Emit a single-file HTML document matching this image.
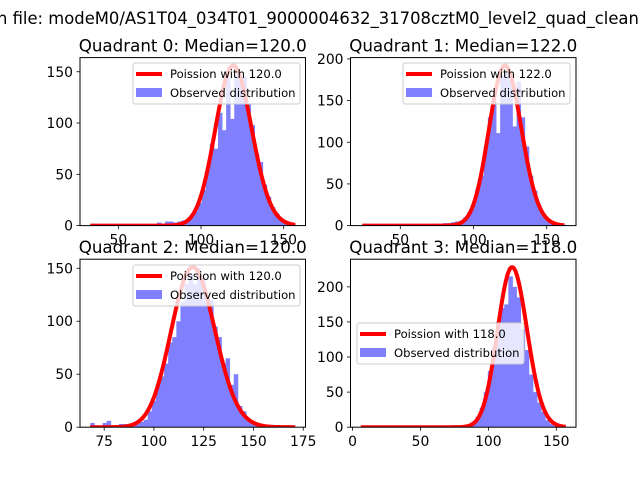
<!DOCTYPE html>
<html><head><meta charset="utf-8">
<style>
html,body{margin:0;padding:0;background:#fff;overflow:hidden;width:640px;height:480px}
svg{display:block;font-family:"DejaVu Sans","Liberation Sans",sans-serif}
</style></head>
<body>
<svg id="fig" width="640" height="480" viewBox="0 0 640 480">
<text x="-3" y="24" font-size="16.4" fill="#000">n file: modeM0/AS1T04_034T01_9000004632_31708cztM0_level2_quad_clean.evt</text>
</svg>
<script>
// ---- data ----
const quadrantNames = ["Quadrant 0: Median=120.0","Quadrant 1: Median=122.0","Quadrant 2: Median=120.0","Quadrant 3: Median=118.0"];
const poissonMeans = [120, 122, 120, 118];
const poissonPeaks = [156, 192, 151, 228];
const curveRanges = [[33,157],[24,162],[68,171],[6,157]];
const binRanges = [[34,157],[23,163],[68,171],[6,157]];
const q0Counts = [1,0,0,0,0,0,0,0,0,0,0,0,0,0,0,0,3,2,4,4, 3,4,5,6,10,14,22,35,55,80, 75,110,93,144,104,147,140,145,118,98, 70,62,40,28,18,12,7,3,2,1];
const q1Counts = [0,0,0,0,0,0,0,0,0,0,0,0,0,0,0,0,1,2,2,1, 3,3,4,5,6,10,16,25,45,60, 95,130,150,111,180,185,175,119,173,130, 95,60,42,25,12,6,3,2,1,1];
const q2Counts = [4,0,0,4,6,0,0,3,3,0, 2,3,5,7,15,25,40,48,60,80, 85,100,118,135,145,135,150,142,118,120, 95,85,60,65,40,50,20,15,8,5, 3,2,1,1,0,0,0,0,0,0];
const q3Counts = [0,0,0,0,0,0,0,0,0,0,0,0,0,0,0,0,0,0,0,0,0,0,0,0, 2,3,4,8,15,28, 50,80,115,150,170,175,215,200,185,140, 110,75,50,35,22,10,5,2,0,0];
const xTicks = [[50,100,150],[50,100,150],[75,100,125,150,175],[0,50,100,150]];
const yTicks = [[0,50,100,150],[0,50,100,150,200],[0,50,100,150],[0,50,100,150,200]];
const legendLabels = ["Poission with 120.0","Poission with 122.0","Poission with 120.0","Poission with 118.0"];
const allCounts = [q0Counts,q1Counts,q2Counts,q3Counts];

// ---- layout ----
const axesBoxes = [[80,57.6,225.5,168],[350.5,57.6,225.5,168],[80,259.2,225.5,168],[350.5,259.2,225.5,168]];
const legendBoxes = [[133,63],[403,63],[133,265],[357,323]];
const NS = "http://www.w3.org/2000/svg";
const fig = document.getElementById('fig');
function mk(tag, attrs, parent){const e=document.createElementNS(NS,tag);for(const k in attrs)e.setAttribute(k,attrs[k]);(parent||fig).appendChild(e);return e;}
function logPmf(k, lam){let lf=0;for(let i=2;i<=k;i++)lf+=Math.log(i);return k*Math.log(lam)-lam-lf;}

for(let q=0;q<4;q++){
  const [ax,ay,aw,ah]=axesBoxes[q];
  const counts=allCounts[q];
  const [b0,b1]=binRanges[q];
  const [c0,c1]=curveRanges[q];
  const lo=Math.min(b0,c0), hi=Math.max(b1,c1);
  const xmin=lo-0.05*(hi-lo), xmax=hi+0.05*(hi-lo);
  const ymax=1.05*Math.max(poissonPeaks[q],Math.max(...counts));
  const X=v=>ax+(v-xmin)/(xmax-xmin)*aw;
  const Y=v=>ay+ah-v/ymax*ah;
  const g=mk('g',{});
  
  
  const clipId='clip'+q;
  const cp=mk('clipPath',{id:clipId},g); mk('rect',{x:ax,y:ay,width:aw,height:ah},cp);
  const plot=mk('g',{'clip-path':'url(#'+clipId+')'},g);
  // bars (opaque light blue equals blue at alpha 0.5 on white)
  const bw=(b1-b0)/counts.length;
  counts.forEach((c,i)=>{
    if(c<=0)return;
    const x0=X(b0+i*bw), x1=X(b0+(i+1)*bw);
    const r=mk('rect',{x:x0,y:Y(c),width:x1-x0+0.4,height:Y(0)-Y(c),fill:'#8080ff'},plot);
    
    
  });
  // poisson curve
  const lam=poissonMeans[q];
  const mode=Math.floor(lam);
  const ref=logPmf(mode,lam);
  let d='';
  for(let k=c0;k<=c1;k++){
    const v=poissonPeaks[q]*Math.exp(logPmf(k,lam)-ref);
    d+=(k===c0?'M':'L')+X(k).toFixed(2)+','+Y(v).toFixed(2);
  }
  const pl=mk('path',{d:d,fill:'none',stroke:'#ff0000','stroke-width':4,'stroke-linejoin':'round'},plot);
  
  
  // frame
  const fr=mk('rect',{x:ax,y:ay,width:aw,height:ah,fill:'none',stroke:'#000','stroke-width':1},g);
  
  
  // x ticks
  xTicks[q].forEach(t=>{
    const px=X(t);
    mk('line',{x1:px,x2:px,y1:ay+ah,y2:ay+ah+3.5,stroke:'#000','stroke-width':0.8},g);
    const tx=mk('text',{x:px,y:ay+ah+19,'font-size':13.9,'text-anchor':'middle'},g);
    tx.textContent=t;
    
    
  });
  yTicks[q].forEach(t=>{
    const py=Y(t);
    mk('line',{x1:ax-3.5,x2:ax,y1:py,y2:py,stroke:'#000','stroke-width':0.8},g);
    const tx=mk('text',{x:ax-7,y:py+5,'font-size':13.9,'text-anchor':'end'},g);
    tx.textContent=t;
    
    
  });
  // title
  const tt=mk('text',{x:ax+aw/2,y:ay-6,'font-size':16.7,'text-anchor':'middle'},g);
  tt.textContent=quadrantNames[q];
  
  
  // legend
  const [lx,ly]=legendBoxes[q];
  const lg=mk('g',{},g);
  
  
  mk('rect',{x:lx,y:ly,width:167,height:41,rx:2.5,fill:'#fff','fill-opacity':0.8,stroke:'#cccccc','stroke-width':1},lg);
  mk('line',{x1:lx+3,x2:lx+29,y1:ly+11,y2:ly+11,stroke:'#ff0000','stroke-width':4},lg);
  mk('rect',{x:lx+3,y:ly+25,width:26,height:9,fill:'#8080ff'},lg);
  const t1=mk('text',{x:lx+37,y:ly+15,'font-size':11.6},lg);
  t1.textContent=legendLabels[q];
  
  
  const t2=mk('text',{x:lx+37,y:ly+34,'font-size':11.6},lg);
  t2.textContent="Observed distribution";
  
  
}
</script>
</body></html>
